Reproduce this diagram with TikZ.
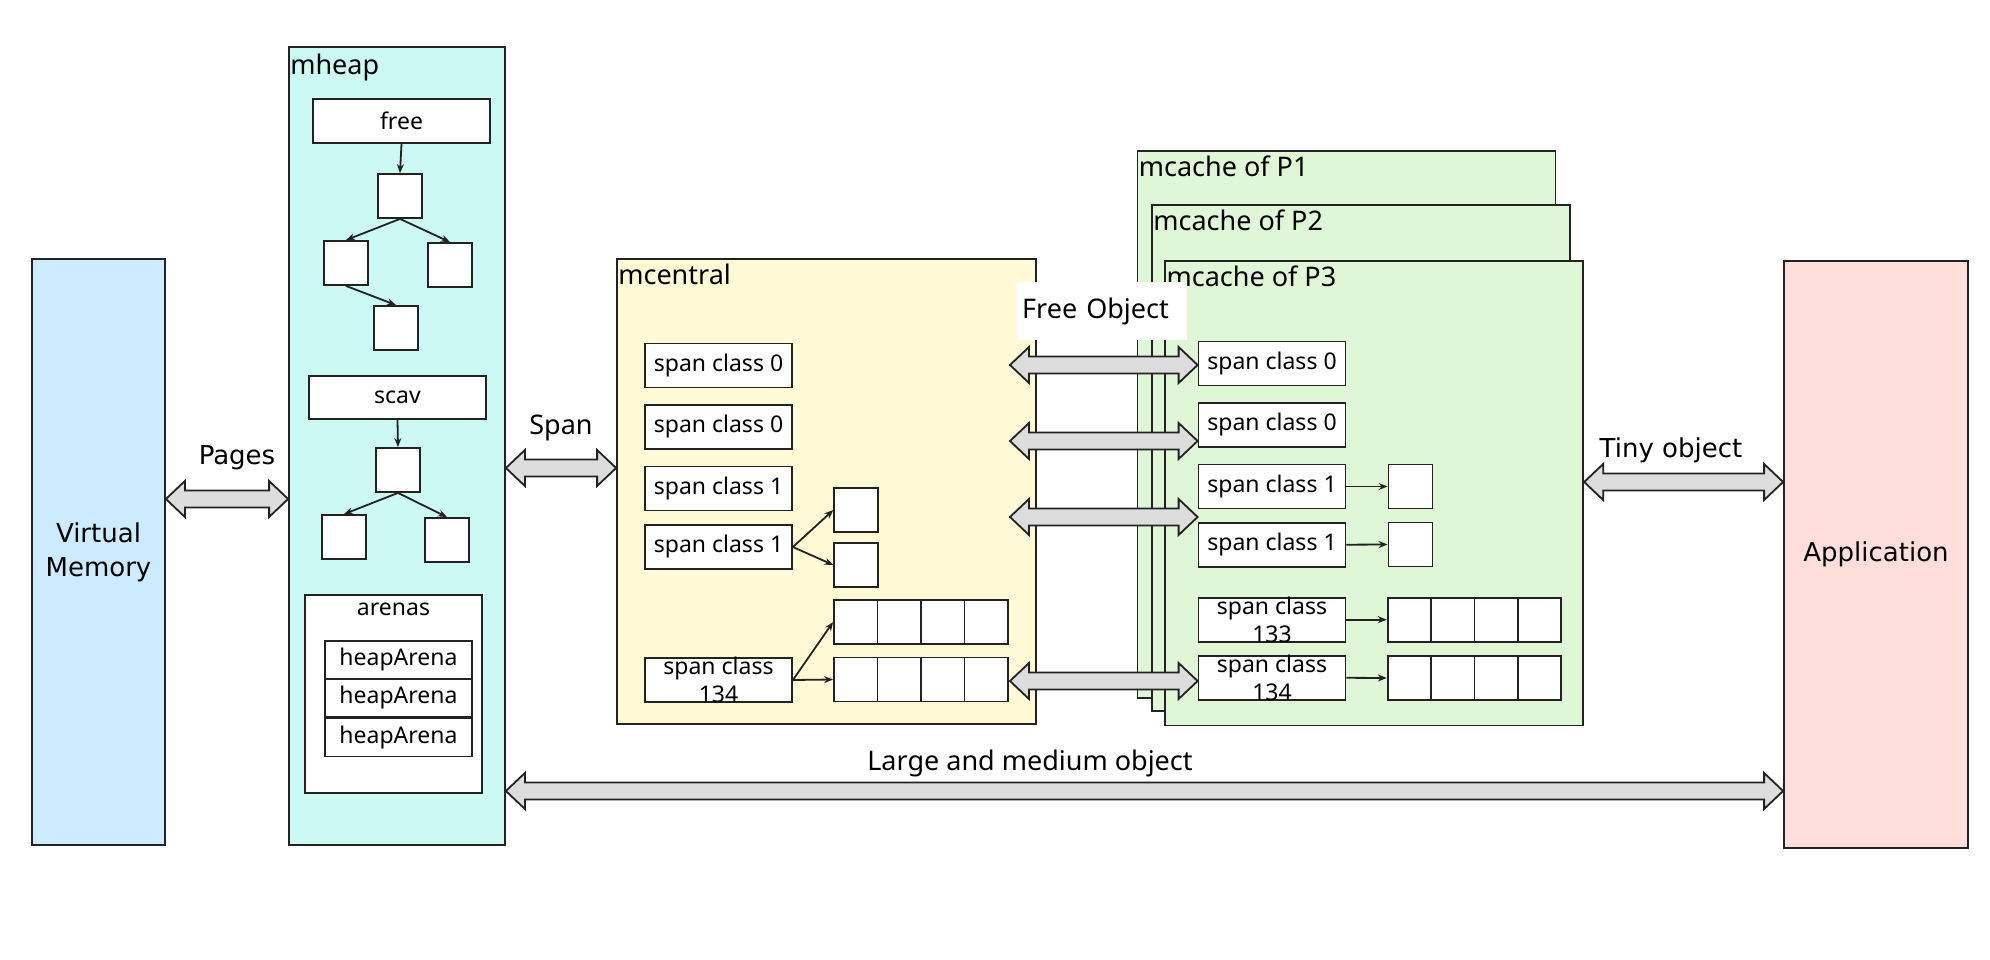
\documentclass[tikz,border=0pt]{standalone}
\usepackage{fontspec}
\setmainfont{Noto Sans}
\newfontfamily\dejavu{DejaVu Sans}
\usetikzlibrary{arrows.meta, calc}

\definecolor{VMBlue}{HTML}{CCEBFF}
\definecolor{HeapCyan}{HTML}{CCF9F4}
\definecolor{CentralYellow}{HTML}{FFF9D6}
\definecolor{CacheGreen}{HTML}{DFF7D7}
\definecolor{AppPink}{HTML}{FFDEDC}
\definecolor{ArrowGray}{HTML}{DDDDDD}
\definecolor{LineDark}{HTML}{222222}

% hollow double arrow, level taken from its left end
\newcommand{\fatarrow}[2]{%
  \draw[bigarrow] let \p1=(#1), \p2=(#2) in
    (\x1,\y1) -- (\x1+19pt,\y1+18pt) -- (\x1+19pt,\y1+8.5pt)
    -- (\x2-19pt,\y1+8.5pt) -- (\x2-19pt,\y1+18pt) -- (\x2,\y1)
    -- (\x2-19pt,\y1-18pt) -- (\x2-19pt,\y1-8.5pt)
    -- (\x1+19pt,\y1-8.5pt) -- (\x1+19pt,\y1-18pt) -- cycle;}

\begin{document}
\begin{tikzpicture}[
  x=1pt, y=-1pt,
  smalltxt/.style={font=\fontsize{23}{27.5}\selectfont},
  bigtxt/.style={font=\fontsize{27}{32}\selectfont},
  widetxt/.style={font=\dejavu\fontsize{26}{34}\selectfont},
  panel/.style={draw=LineDark, line width=1.8pt, inner sep=0pt},
  paneltitle/.style={anchor=north west, inner sep=0pt, bigtxt},
  whitebox/.style={draw=LineDark, line width=1.8pt, fill=white, inner sep=0pt, smalltxt},
  spanbox/.style={whitebox, minimum width=147pt, minimum height=44pt},
  cellbox/.style={whitebox, minimum width=43.5pt, minimum height=44pt},
  link/.style={-{Stealth[length=9pt, width=7pt]}, line width=1.8pt, LineDark},
  bigarrow/.style={draw=LineDark, line width=1.8pt, fill=ArrowGray, line join=miter}
]
  \useasboundingbox (0,0) rectangle (1990,960);

  % levels of the big arrows
  \coordinate (pagesY) at (0,499);
  \coordinate (spanY) at (0,468);
  \coordinate (tinyY) at (0,482);
  \coordinate (largeY) at (0,791);

  \node[panel, fill=VMBlue, minimum width=133pt, minimum height=586pt,
        align=center, widetxt] (vm) at (98.5,552) {Virtual\\Memory};

  % mheap
  \node[panel, fill=HeapCyan, minimum width=216pt, minimum height=798pt] (mheap) at (397,446) {};
  \node[paneltitle] at ($(mheap.north west)+(2,8)$) {mheap};
  \node[whitebox, minimum width=177pt, minimum height=44pt] (free) at (401.5,121) {free};
  \foreach \n/\cx/\cy in {f1/400/196, f2/346/263, f3/450/265, f4/396/328}
    \node[cellbox, minimum width=44pt] (\n) at (\cx,\cy) {};
  \draw[link] (free.south) -- (f1.north);
  \draw[link] (f1.south) -- (f2.north);
  \draw[link] (f1.south) -- (f3.north);
  \draw[link] (f2.south) -- (f4.north);
  \node[whitebox, minimum width=177pt, minimum height=43pt] (scav) at (397.5,397.5) {scav};
  \foreach \n/\cx/\cy in {s1/398/470, s2/344/537, s3/447/540}
    \node[cellbox, minimum width=44pt] (\n) at (\cx,\cy) {};
  \draw[link] (scav.south) -- (s1.north);
  \draw[link] (s1.south) -- (s2.north);
  \draw[link] (s1.south) -- (s3.north);
  \node[whitebox, minimum width=177pt, minimum height=198pt] (arenas) at (393.5,694) {};
  \node[smalltxt, inner sep=0pt] at ($(arenas.north)+(0,15)$) {arenas};
  \foreach \i/\cy in {1/660, 2/698, 3/737.5}
    \node[whitebox, minimum width=147pt, minimum height=38pt] (ha\i) at (398.5,\cy) {heapArena};

  % mcentral
  \node[panel, fill=CentralYellow, minimum width=419pt, minimum height=465pt] (mcentral) at (826.5,491.5) {};
  \node[paneltitle] at ($(mcentral.north west)+(2,6)$) {mcentral};
  \foreach \n/\cy/\t in {c0a/365.5/span class 0, c0b/427/span class 0,
                         c1a/488.5/span class 1, c1b/547/span class 1}
    \node[spanbox] (\n) at (718.5,\cy) {\t};
  \node[spanbox, label={[smalltxt, align=center, inner sep=0pt]center:span class\\134}] (c134) at (718.5,680) {};
  \node[cellbox] (m1) at (856,510) {};
  \node[cellbox] (m2) at (856,565) {};
  \foreach \i in {1,...,4}{
    \node[cellbox] (ma\i) at ({812.25+43.5*\i},622) {};
    \node[cellbox] (mb\i) at ({812.25+43.5*\i},679.5) {};
  }
  \draw[link] (c1b.east) -- (m1.west);
  \draw[link] (c1b.east) -- (m2.west);
  \draw[link] (c134.east) -- (ma1.west);
  \draw[link] (c134.east) -- (mb1.west);

  % mcache of each P
  \node[panel, fill=CacheGreen, minimum width=418pt, minimum height=547pt] (pc1) at (1346.5,424.5) {};
  \node[paneltitle] at ($(pc1.north west)+(2,6)$) {mcache of P1};
  \node[panel, fill=CacheGreen, minimum width=418pt, minimum height=506pt] (pc2) at (1361,458) {};
  \node[paneltitle] at ($(pc2.north west)+(2,6)$) {mcache of P2};
  \node[panel, fill=CacheGreen, minimum width=418pt, minimum height=464.5pt] (pc3) at (1374.25,493.25) {};
  \node[paneltitle] at ($(pc3.north west)+(2,6)$) {mcache of P3};
  \foreach \n/\cy/\t in {p0a/363.5/span class 0, p0b/425/span class 0,
                         p1a/486.5/span class 1, p1b/544.7/span class 1}
    \node[spanbox] (\n) at (1272,\cy) {\t};
  \node[spanbox, label={[smalltxt, align=center, inner sep=0pt]center:span class\\133}] (p133) at (1272,619.7) {};
  \node[spanbox, label={[smalltxt, align=center, inner sep=0pt]center:span class\\134}] (p134) at (1272,677.8) {};
  \node[cellbox, minimum width=44pt] (q1) at (1410.5,486.5) {};
  \node[cellbox, minimum width=44pt] (q2) at (1410.5,544.5) {};
  \foreach \i in {1,...,4}{
    \node[cellbox, minimum width=43.4pt] (pa\i) at ({1366+43.4*\i},619.7) {};
    \node[cellbox, minimum width=43.4pt] (pb\i) at ({1366+43.4*\i},678) {};
  }
  \draw[link] (p1a.east) -- (q1.west);
  \draw[link] (p1b.east) -- (q2.west);
  \draw[link] (p133.east) -- (pa1.west);
  \draw[link] (p134.east) -- (pb1.west);

  \node[panel, fill=AppPink, minimum width=184pt, minimum height=587pt, widetxt] (app) at (1876,554.5) {Application};

  % transfers
  \fatarrow{vm.east |- pagesY}{mheap.west}
  \fatarrow{mheap.east |- spanY}{mcentral.west}
  \fatarrow{pc3.east |- tinyY}{app.west}
  \fatarrow{mheap.east |- largeY}{app.west}
  \foreach \i/\cy in {1/365, 2/441, 3/517, 4/681}
    \coordinate (fo\i) at (1010,\cy);
  \fatarrow{fo1}{p0a.west}
  \fatarrow{fo2}{p0b.west}
  \fatarrow{fo3}{p1a.west}
  \fatarrow{fo4}{p134.west}

  \node[widetxt] at (237,458) {Pages};
  \node[bigtxt] at (561,428) {Span};
  \node[widetxt] at (1671,450) {Tiny object};
  \node[bigtxt] at (1030,763) {Large and medium object};
  \node[fill=white, anchor=west, minimum height=57pt, inner xsep=5pt, inner ysep=0pt,
        text width=160pt, align=left, bigtxt] (freeobj) at (1017,311) {Free Object};
\end{tikzpicture}
\end{document}
